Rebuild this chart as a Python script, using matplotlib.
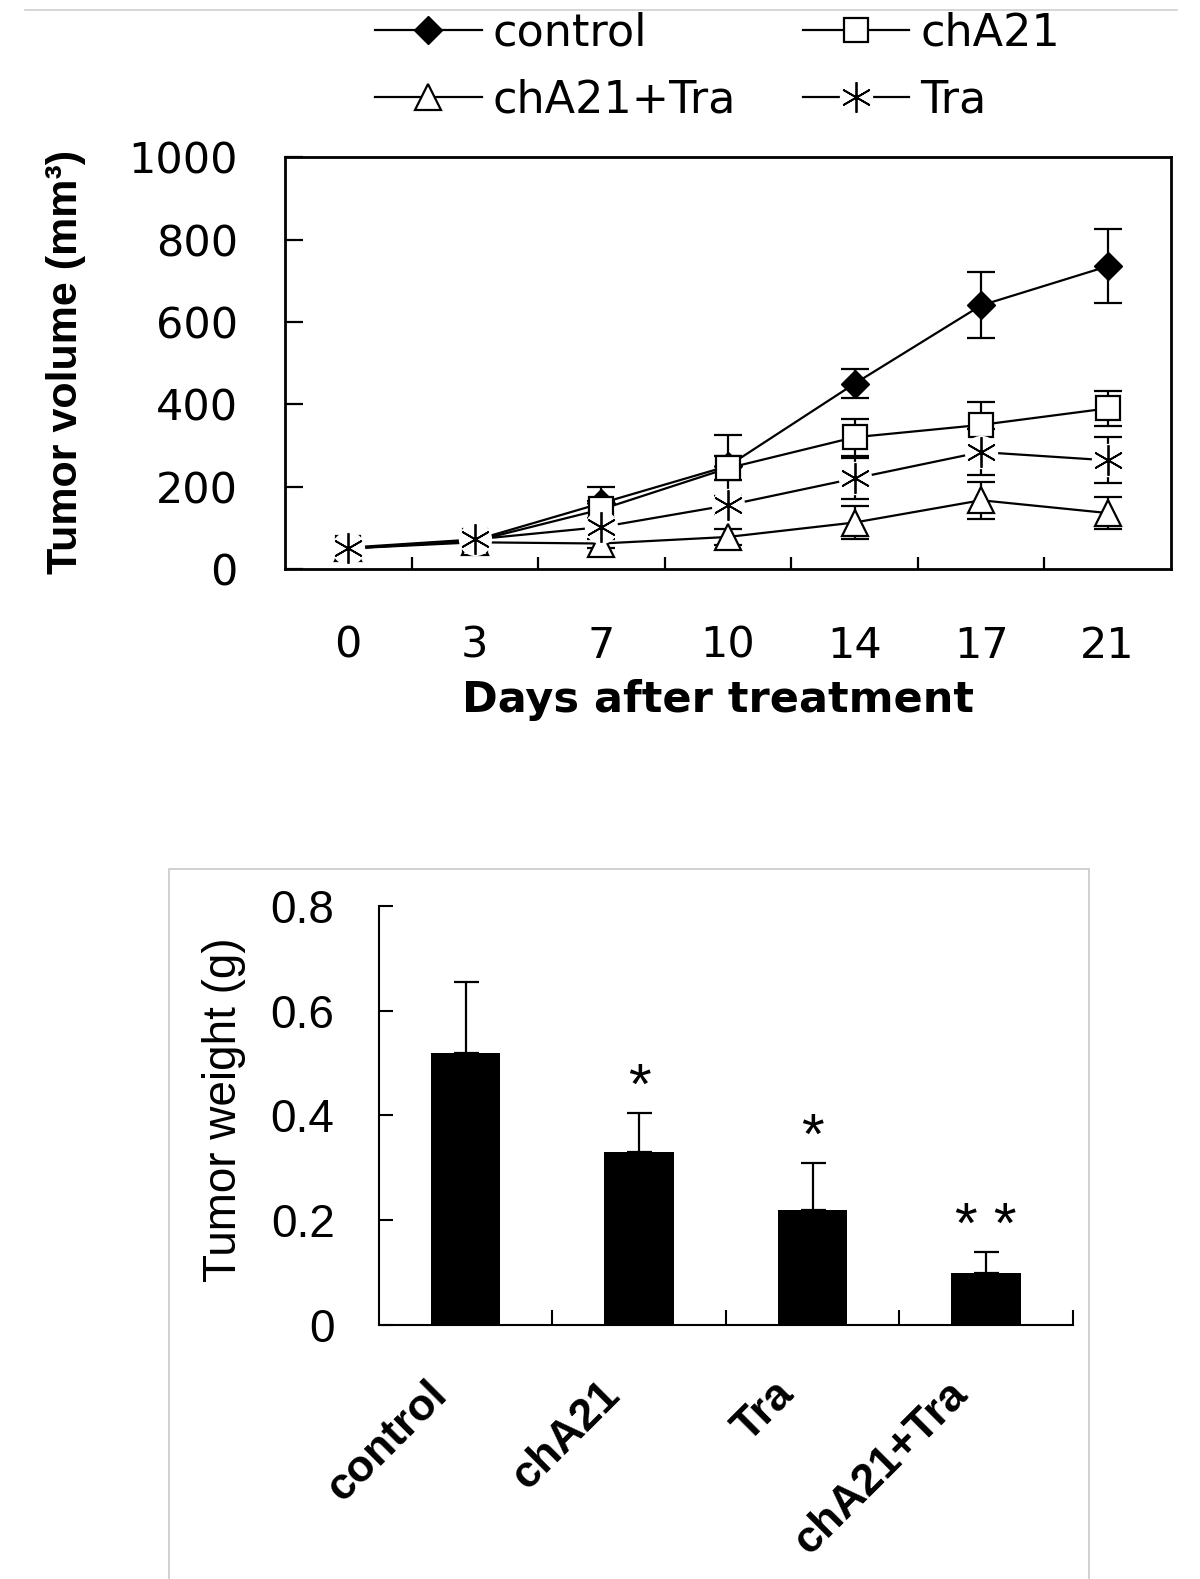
import numpy as np
import matplotlib.pyplot as plt
from matplotlib.lines import Line2D
from matplotlib.patches import Rectangle
from matplotlib.legend_handler import HandlerTuple

# ---- data: tumor volume over time ----
days = ['0', '3', '7', '10', '14', '17', '21']
control = [50, 70, 160, 250, 450, 640, 735]
control_err = [0, 0, 40, 75, 35, 80, 90]
cha21 = [50, 68, 145, 245, 320, 350, 390]
cha21_err = [0, 0, 20, 30, 45, 55, 42]
combo = [50, 65, 62, 78, 113, 167, 136]
combo_err = [0, 0, 10, 20, 40, 45, 38]
tra = [52, 72, 102, 155, 220, 284, 264]
tra_err = [0, 0, 15, 22, 50, 56, 56]

# ---- data: tumor weight at end ----
groups = ['control', 'chA21', 'Tra', 'chA21+Tra']
weight = [0.52, 0.33, 0.22, 0.10]
weight_err = [0.135, 0.075, 0.09, 0.04]
signif = ['', '*', '*', '* *']

fig = plt.figure(figsize=(12, 15.79), dpi=100)

# ================= top: line chart =================
ax = fig.add_axes([0.2375, 0.6396, 0.7383, 0.2609])
x = np.arange(len(days))


def errs(xv, yv, ev, z):
    idx = [i for i in range(len(ev)) if ev[i] > 0]
    ax.errorbar(xv[idx], np.array(yv)[idx], yerr=np.array(ev)[idx], fmt='none',
                ecolor='black', elinewidth=1.6, capsize=10, capthick=1.6, zorder=z)


errs(x, control, control_err, 2)
errs(x, cha21, cha21_err, 2)
errs(x, combo, combo_err, 2)
errs(x, tra, tra_err, 2)

l_ctrl, = ax.plot(x, control, '-', color='black', lw=1.6, marker='D', ms=14,
                  mfc='black', mec='black', zorder=4)
l_cha, = ax.plot(x, cha21, '-', color='black', lw=1.6, marker='s', ms=17,
                 mfc='white', mec='black', mew=1.6, zorder=4)
l_combo, = ax.plot(x, combo, '-', color='black', lw=1.6, marker='^', ms=19,
                   mfc='white', mec='black', mew=1.6, zorder=4)
l_tra, = ax.plot(x, tra, '-', color='black', lw=1.6, zorder=3)
d_tra, = ax.plot(x, tra, 'o', ms=24, mfc='white', mec='none', zorder=6)
s_tra, = ax.plot(x, tra, ls='none', marker=(6, 2, 0), ms=22, mec='black',
                 mew=1.3, zorder=7)

ax.set_xlim(-0.5, 6.5)
ax.set_ylim(0, 1000)
ax.set_yticks(np.arange(0, 1001, 200))
ax.set_xticks(np.arange(0.5, 6, 1))
ax.set_xticklabels([])
ax.set_xticks(x, days, minor=True)
ax.tick_params(axis='y', direction='in', length=13, width=1.6, pad=34, labelsize=31)
ax.tick_params(axis='x', which='major', direction='in', length=9, width=1.6)
ax.tick_params(axis='x', which='minor', length=0, pad=40, labelsize=31)
for sp in ax.spines.values():
    sp.set_linewidth(2)

fig.text(718 / 1200, 1 - 700 / 1579, 'Days after treatment', ha='center', va='center',
         fontsize=31, fontweight='bold')
fig.text(66 / 1200, 1 - 362 / 1579, 'Tumor volume (mm³)', rotation=90, ha='center',
         va='center', fontsize=31, fontweight='bold', family='Liberation Sans')

fig.legend([l_ctrl, l_combo, l_cha, (l_tra, d_tra, s_tra)],
           ['control', 'chA21+Tra', 'chA21', 'Tra'],
           handler_map={tuple: HandlerTuple(ndivide=1)},
           ncol=2, loc='center', bbox_to_anchor=(0.598, 0.958), frameon=False,
           fontsize=32, handlelength=2.4, handletextpad=0.25, columnspacing=1.5,
           labelspacing=0.55, borderpad=0)

# ================= bottom: bar chart =================
bx = fig.add_axes([0.3158, 0.1609, 0.5783, 0.2654])
xb = np.arange(len(groups))
bx.bar(xb, weight, width=0.4, color='black',
       yerr=[np.zeros(len(weight)), weight_err], capsize=9,
       error_kw=dict(elinewidth=1.6, capthick=1.6, ecolor='black'))
for i, s in enumerate(signif):
    if s:
        bx.text(i, weight[i] + weight_err[i] + 0.017, s, ha='center', va='baseline',
                fontsize=42, family='Liberation Sans')

bx.set_xlim(-0.5, 3.5)
bx.set_ylim(0, 0.8)
bx.set_yticks([0, 0.2, 0.4, 0.6, 0.8])
bx.set_yticklabels(['0', '0.2', '0.4', '0.6', '0.8'], family='Liberation Sans')
bx.set_xticks(np.arange(0.5, 4, 1))
bx.set_xticklabels([])
# rotated labels sit a little left of each bar, as in the original
bx.set_xticks(xb - 0.23, groups, minor=True)
for lab in bx.get_xticklabels(minor=True):
    lab.set_rotation(45)
    lab.set_ha('right')
    lab.set_va('top')
    lab.set_rotation_mode('anchor')
    lab.set_family('Liberation Sans')
    lab.set_fontweight('bold')
bx.tick_params(axis='y', direction='in', length=10, width=1.5, pad=32, labelsize=33)
bx.tick_params(axis='x', which='major', direction='in', length=11, width=1.5)
bx.tick_params(axis='x', which='minor', length=0, pad=35, labelsize=32)
bx.spines['top'].set_visible(False)
bx.spines['right'].set_visible(False)
bx.spines['left'].set_linewidth(1.5)
bx.spines['bottom'].set_linewidth(1.5)
fig.text(224 / 1200, 1 - 1110 / 1579, 'Tumor weight (g)', rotation=90, ha='center',
         va='center', fontsize=33, family='Liberation Sans')

# light chart-area frames
fig.add_artist(Rectangle((169 / 1200, -0.01), (1089 - 169) / 1200, 1.01 - 869 / 1579,
                         transform=fig.transFigure, fill=False, ec='#c8c8c8', lw=1.2))
fig.add_artist(Line2D([25 / 1200, 1177 / 1200], [1 - 10 / 1579] * 2,
                      transform=fig.transFigure, color='#d0d0d0', lw=1.2))

fig.savefig('out.png', dpi=100)
